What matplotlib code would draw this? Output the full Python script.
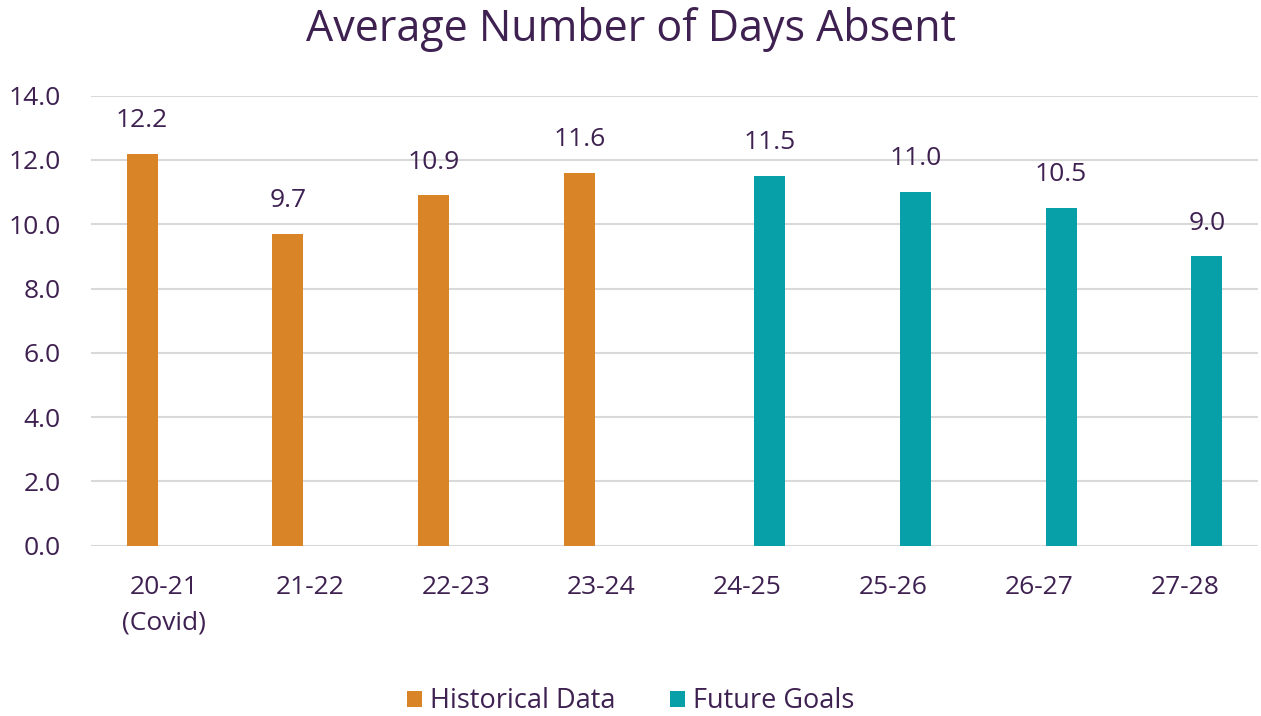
import matplotlib
matplotlib.use("Agg")
import matplotlib.pyplot as plt
import numpy as np

categories = ["20-21\n(Covid)", "21-22", "22-23", "23-24", "24-25", "25-26", "26-27", "27-28"]
historical = [12.2, 9.7, 10.9, 11.6, None, None, None, None]
future = [None, None, None, None, 11.5, 11.0, 10.5, 9.0]
yticks = [0, 2, 4, 6, 8, 10, 12, 14]

TEXT = "#3E2151"
ORANGE = "#DA8428"
TEAL = "#07A0A8"

plt.rcParams['font.family'] = ['Open Sans', 'DejaVu Sans']

fig = plt.figure(figsize=(12.61, 7.16), dpi=100)
ax = fig.add_axes([0.0722, 0.2377, 0.9254, 0.6287])

x = np.arange(len(categories))
w = 0.213
off = 0.15
hx = [xi - off for xi, v in zip(x, historical) if v is not None]
hv = [v for v in historical if v is not None]
fx = [xi + off for xi, v in zip(x, future) if v is not None]
fv = [v for v in future if v is not None]

b1 = ax.bar(hx, hv, width=w, color=ORANGE, label="Historical Data", zorder=3)
b2 = ax.bar(fx, fv, width=w, color=TEAL, label="Future Goals", zorder=3)
for bars in (b1, b2):
    ax.bar_label(bars, fmt="%.1f", padding=15, color=TEXT, fontsize=19)

ax.set_xlim(-0.5, len(categories) - 0.5)
ax.set_ylim(0, 14)
ax.set_yticks(yticks)
ax.set_yticklabels([f"{t:.1f}" for t in yticks])
ax.set_xticks(x)
ax.set_xticklabels(categories, linespacing=1.55)
ax.tick_params(axis='both', length=0, colors=TEXT, labelsize=19)
ax.tick_params(axis='x', pad=21)
ax.tick_params(axis='y', pad=22)
ax.grid(axis='y', color='#D9D9D9', linewidth=1.5, zorder=0)
for s in ax.spines.values():
    s.set_visible(False)

fig.suptitle("Average Number of Days Absent", color=TEXT, fontsize=31, y=0.99)
leg = fig.legend(handles=[b1, b2], loc='lower center', bbox_to_anchor=(0.5, -0.033), ncol=2,
                 frameon=False, fontsize=19.5, handlelength=0.55, handleheight=0.55,
                 handletextpad=0.3, columnspacing=2.0)
for t in leg.get_texts():
    t.set_color(TEXT)

fig.savefig("out.png", dpi=100)
